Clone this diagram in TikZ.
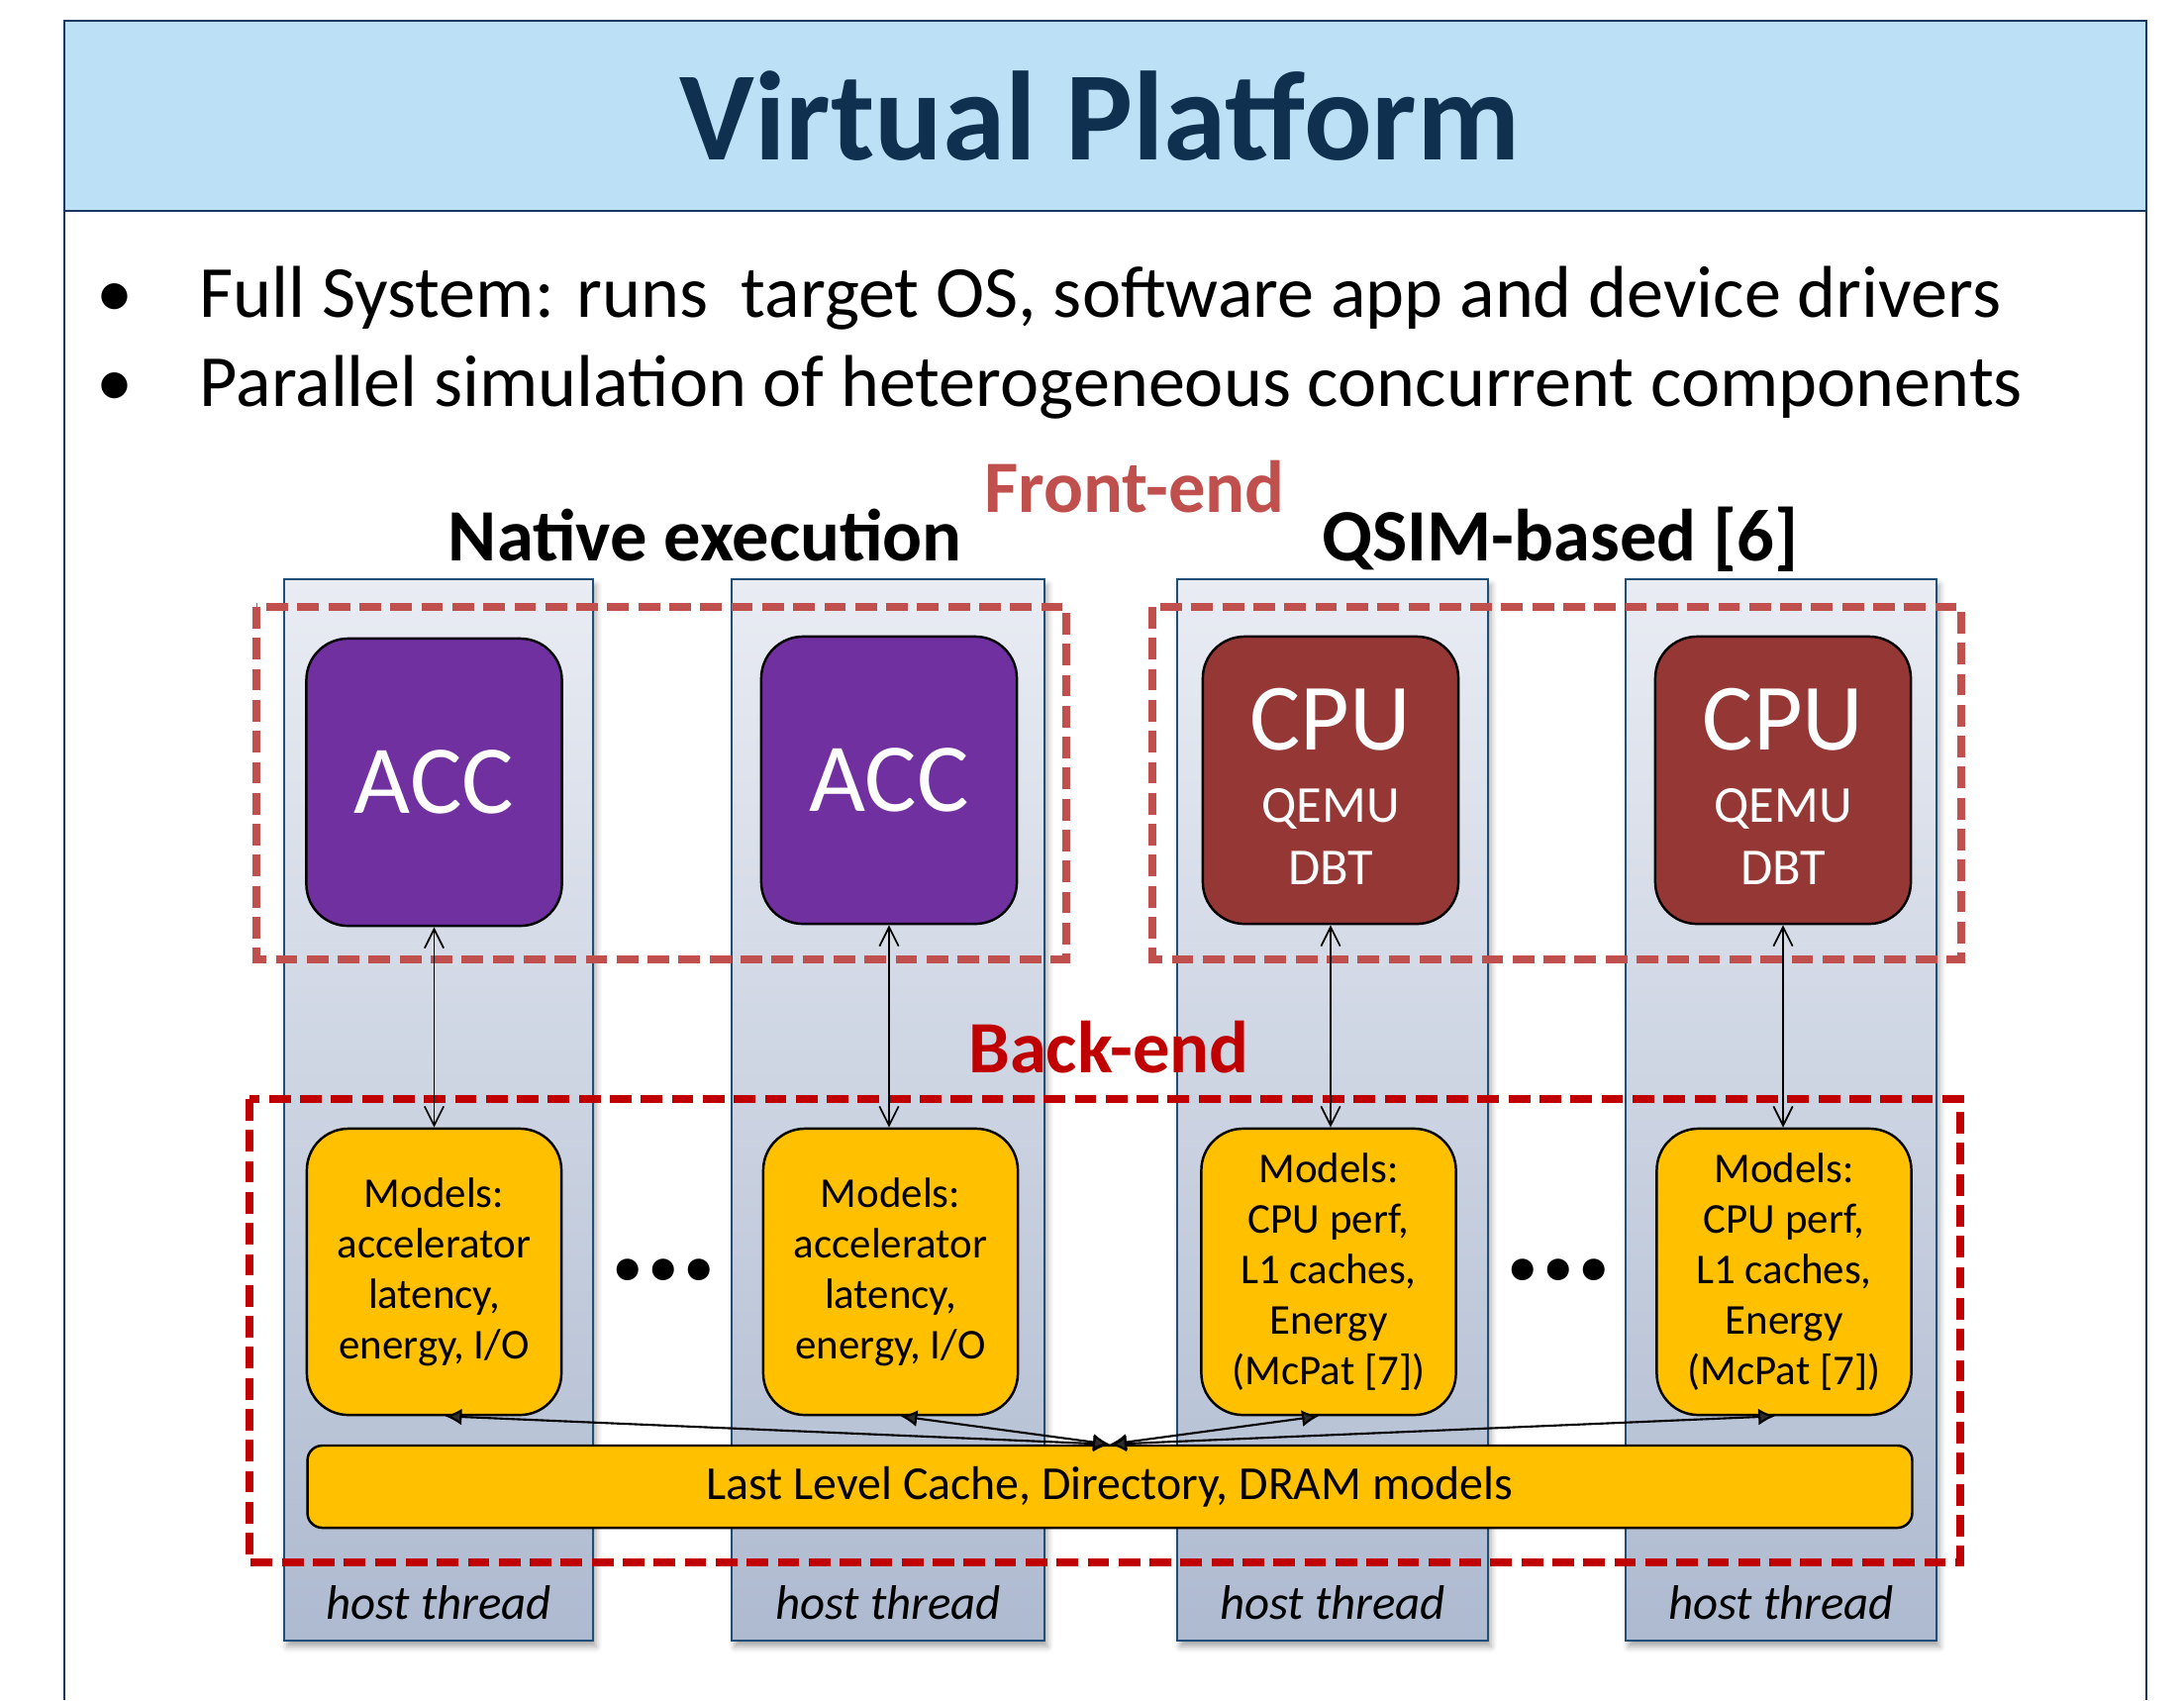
\documentclass[tikz,border=0pt]{standalone}
\usepackage{fontspec}
\setmainfont{Carlito}
\usetikzlibrary{arrows.meta,calc,shadows.blur}

\definecolor{navy}{HTML}{17375E}
\definecolor{titleblue}{HTML}{10304F}
\definecolor{bandblue}{HTML}{BCE0F5}
\definecolor{frontred}{HTML}{C0504D}
\definecolor{backred}{HTML}{C00000}
\definecolor{accpurple}{HTML}{7030A0}
\definecolor{cpured}{HTML}{953735}
\definecolor{modelgold}{HTML}{FFC000}
\definecolor{coltop}{HTML}{E9ECF3}
\definecolor{colbot}{HTML}{AEBAD0}
\definecolor{colline}{HTML}{1F4E79}

\begin{document}
\begin{tikzpicture}[x=0.01cm,y=-0.01cm,
  txt/.style={inner sep=0pt, anchor=base},
  threadcol/.style={draw=colline, line width=0.6pt, top color=coltop, bottom color=colbot,
    blur shadow={shadow xshift=0.03cm, shadow yshift=-0.06cm, shadow blur radius=0.06cm, shadow opacity=35}},
  frontbox/.style={draw=frontred, line width=2.1pt, dash pattern=on 6.2pt off 2.7pt},
  backbox/.style={draw=backred, line width=2.2pt, dash pattern=on 6.2pt off 2.7pt},
  unitbox/.style={draw=black, line width=0.7pt, rounded corners=0.42cm, inner sep=0pt,
    minimum width=2.58cm, minimum height=2.9cm, align=center},
  accbox/.style={unitbox, fill=accpurple, text=white, font=\fontsize{28}{34}\selectfont},
  cpubox/.style={unitbox, fill=cpured, text=white, font=\fontsize{14.9}{17.9}\selectfont},
  modelbox/.style={unitbox, fill=modelgold, minimum height=2.89cm, minimum width=2.57cm,
    font=\fontsize{12.2}{14.5}\selectfont},
  llcbox/.style={draw=black, line width=0.7pt, rounded corners=0.15cm, fill=modelgold, inner sep=0pt,
    minimum width=16.2cm, minimum height=0.83cm, font=\fontsize{13.6}{16}\selectfont},
  vlink/.style={{Straight Barb[length=5.5pt,width=5.5pt]}-{Straight Barb[length=5.5pt,width=5.5pt]}, line width=0.5pt},
  hlink/.style={{Latex[length=4.8pt,width=4.8pt]}-{Latex[length=4.8pt,width=4.8pt]}, line width=0.6pt},
  headtxt/.style={txt, font=\fontsize{21.2}{25}\selectfont\bfseries},
  bullettxt/.style={txt, font=\fontsize{21.1}{25}\selectfont},
  hosttxt/.style={txt, font=\fontsize{13.9}{16}\selectfont\itshape},
  dotstxt/.style={txt, font=\fontsize{42}{46}\selectfont\bfseries}
]
\useasboundingbox (0,0) rectangle (2206,1717);

% slide frame and title band
\path[fill=bandblue] (65,21) rectangle (2168,213);
\draw[navy, line width=0.75pt] (65,1717) -- (65,21) -- (2168,21) -- (2168,1717);
\draw[navy, line width=0.75pt] (65,213) -- (2168,213);
\node[txt, text=titleblue, font=\fontsize{36.4}{44}\selectfont\bfseries] (title) at (1111,161) {Virtual Platform};

% bullet list
\node[bullettxt] (dot1) at (116,320) {\textbullet};
\node[bullettxt, anchor=base west] (item1) at (201,320) {Full System: runs\ \ target OS, software app and device drivers};
\node[bullettxt] (dot2) at (116,410) {\textbullet};
\node[bullettxt, anchor=base west] (item2) at (201,410) {Parallel simulation of heterogeneous concurrent components};

% headings
\node[headtxt, text=frontred] (fronthead) at (1146,517) {Front-end};
\node[headtxt] (nativehead) at (712.5,566) {Native execution};
\node[headtxt] (qsimhead) at (1576,566) {QSIM-based [6]};

% host thread columns
\path[threadcol] (287,585) rectangle (599,1657);
\path[threadcol] (739,585) rectangle (1055,1657);
\path[threadcol] (1189,585) rectangle (1503,1657);
\path[threadcol] (1642,585) rectangle (1956,1657);
\node[hosttxt] (host1) at (443,1635) {host thread};
\node[hosttxt] (host2) at (897,1635) {host thread};
\node[hosttxt] (host3) at (1346,1635) {host thread};
\node[hosttxt] (host4) at (1799,1635) {host thread};

% front-end and back-end groups
\draw[frontbox] (259,613) rectangle (1077,969);
\draw[frontbox] (1164,613) rectangle (1981,969);
\draw[backbox] (252,1110) rectangle (1980,1578);
\node[headtxt, text=backred] (backhead) at (1120,1083) {Back-end};

% front-end simulators
\node[accbox] (acc1) at (438.5,790) {ACC};
\node[accbox] (acc2) at (898,788) {ACC};
\node[cpubox] (cpu1) at (1344,788) {{\fontsize{27.3}{30}\selectfont\rule{0pt}{21.5pt}CPU}\\[2.9pt]QEMU\\DBT};
\node[cpubox] (cpu2) at (1801,788) {{\fontsize{27.3}{30}\selectfont\rule{0pt}{21.5pt}CPU}\\[2.9pt]QEMU\\DBT};

% back-end timing models
\node[modelbox] (m1) at (438.5,1284.5) {Models:\\accelerator\\latency,\\energy, I/O};
\node[modelbox] (m2) at (899.5,1284.5) {Models:\\accelerator\\latency,\\energy, I/O};
\node[modelbox] (m3) at (1342,1284.5) {Models:\\CPU perf,\\L1 caches,\\Energy\\(McPat [7])};
\node[modelbox] (m4) at (1802,1284.5) {Models:\\CPU perf,\\L1 caches,\\Energy\\(McPat [7])};
\node[llcbox] (llc) at (1121,1501.5) {Last Level Cache, Directory, DRAM models};

\node[dotstxt] (dotsA) at (670,1292) {.\kern-1pt.\kern-1pt.};
\node[dotstxt] (dotsB) at (1574,1292) {.\kern-1pt.\kern-1pt.};

% links between simulators and models
\draw[vlink] (acc1.south) -- (acc1.south |- m1.north);
\draw[vlink] (acc2.south) -- (acc2.south |- m2.north);
\draw[vlink] (cpu1.south) -- (cpu1.south |- m3.north);
\draw[vlink] (cpu2.south) -- (cpu2.south |- m4.north);

% links between models and the shared memory models
\coordinate (hub) at (llc.north);
\draw[hlink] ($(m1.south)+(11,0)$) -- (hub);
\draw[hlink] ($(m2.south)+(10,0)$) -- (hub);
\draw[hlink] ($(m3.south)+(-10,0)$) -- (hub);
\draw[hlink] ($(m4.south)+(-9,0)$) -- (hub);
\end{tikzpicture}
\end{document}
